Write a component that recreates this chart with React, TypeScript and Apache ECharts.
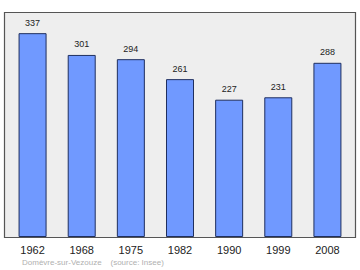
import React, { useEffect, useRef } from "react";
import * as echarts from "echarts";

const categories = ["1962", "1968", "1975", "1982", "1990", "1999", "2008"];
const values = [337, 301, 294, 261, 227, 231, 288];
const footer = "Domèvre-sur-Vezouze    (source: Insee)";

export default function App() {
  const ref = useRef<HTMLDivElement>(null);
  useEffect(() => {
    const chart = echarts.init(ref.current!, null, { renderer: "svg" });
    chart.setOption({
      animation: false,
      backgroundColor: "#ffffff",
      graphic: [
        {
          type: "rect",
          z: -10,
          shape: { x: 4.5, y: 12.5, width: 351, height: 225 },
          style: { fill: "#eeeeee", stroke: "#555555", lineWidth: 1.2 },
        },
        {
          type: "text",
          left: 22,
          top: 258,
          style: {
            text: footer,
            fill: "#b0b0b0",
            fontSize: 8,
            fontFamily: "Liberation Sans",
          },
        },
      ],
      grid: { left: 8, right: 8, top: 12, bottom: 33 },
      xAxis: {
        type: "category",
        data: categories,
        axisLine: { show: false },
        axisTick: { show: false },
        axisLabel: {
          color: "#222222",
          fontSize: 11,
          fontFamily: "Liberation Sans",
          margin: 7,
        },
      },
      yAxis: {
        type: "value",
        min: 0,
        max: 372,
        show: false,
        splitLine: { show: false },
      },
      series: [
        {
          type: "bar",
          data: values,
          barWidth: 28,
          itemStyle: {
            color: "#7099ff",
            borderColor: "#1f2f5f",
            borderWidth: 1,
          },
          label: {
            show: true,
            position: "top",
            distance: 6,
            color: "#222222",
            fontSize: 9,
            fontFamily: "Liberation Sans",
          },
        },
      ],
    });
    return () => chart.dispose();
  }, []);
  return (
    <div
      ref={ref}
      style={{ position: "fixed", left: 0, top: 0, width: 360, height: 270 }}
    />
  );
}
